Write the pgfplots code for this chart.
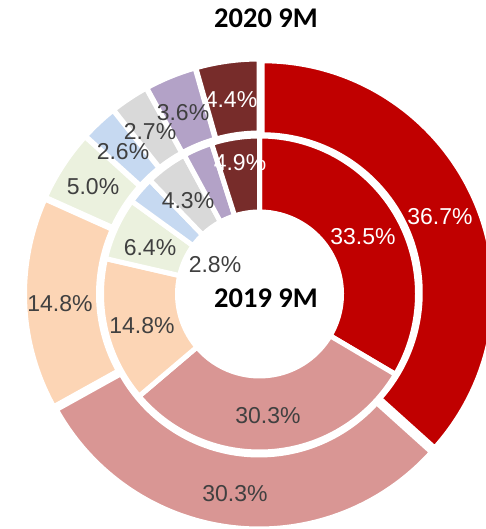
\documentclass[border=0pt]{standalone}
\usepackage{fontspec}
\setmainfont{Liberation Sans}
\newfontfamily\carlito{Carlito}
\usepackage{pgfplots}
\usepackage{pgfplotstable}
\pgfplotsset{compat=1.18}
\usetikzlibrary{calc}

\definecolor{s0}{HTML}{C00000}
\definecolor{s1}{HTML}{D99694}
\definecolor{s2}{HTML}{FCD5B5}
\definecolor{s3}{HTML}{EBF1DE}
\definecolor{s4}{HTML}{C6D9F1}
\definecolor{s5}{HTML}{D9D9D9}
\definecolor{s6}{HTML}{B3A2C7}
\definecolor{s7}{HTML}{772C2A}
\definecolor{labgray}{HTML}{404040}

% 2020 9M (outer ring)
\pgfplotstableread{
share
36.7
30.3
14.8
5.0
2.6
2.7
3.6
4.4
}\outerdata

% 2019 9M (inner ring)
\pgfplotstableread{
share
33.5
30.3
14.8
6.4
2.8
4.3
3.0
4.9
}\innerdata

% start / end / mid angles of every slice, clockwise from 12 o'clock
\newcommand\ringsetup[2]{%
  \pgfplotstablegetrowsof{#1}%
  \pgfmathtruncatemacro\nlast{\pgfplotsretval-1}%
  \def\tot{0}%
  \pgfplotsforeachungrouped \i in {0,...,\nlast}{%
    \pgfplotstablegetelem{\i}{share}\of{#1}%
    \pgfmathsetmacro\tot{\tot+\pgfplotsretval}%
  }%
  \def\cum{0}%
  \pgfplotsforeachungrouped \i in {0,...,\nlast}{%
    \pgfplotstablegetelem{\i}{share}\of{#1}%
    \pgfmathsetmacro\aS{90-360*(\cum/\tot)}%
    \pgfmathsetmacro\cum{\cum+\pgfplotsretval}%
    \pgfmathsetmacro\aE{90-360*(\cum/\tot)}%
    \pgfmathsetmacro\aM{(\aS+\aE)/2}%
    \expandafter\xdef\csname #2S\i\endcsname{\aS}%
    \expandafter\xdef\csname #2E\i\endcsname{\aE}%
    \expandafter\xdef\csname #2M\i\endcsname{\aM}%
  }%
}
\ringsetup{\outerdata}{out}%
\ringsetup{\innerdata}{inn}%

% ring prefix, slice, inner radius, outer radius, explode
\newcommand\ringwedge[5]{%
  \edef\tmp{\noexpand\fill[s#2, draw=white, line width=5pt, line join=round,
      shift={(\csname #1M#2\endcsname:#5pt)}]
    ($(axis cs:259.5,235)+(\csname #1S#2\endcsname:#4pt)$)
    arc[start angle=\csname #1S#2\endcsname, end angle=\csname #1E#2\endcsname, radius=#4pt]
    -- ($(axis cs:259.5,235)+(\csname #1E#2\endcsname:#3pt)$)
    arc[start angle=\csname #1E#2\endcsname, end angle=\csname #1S#2\endcsname, radius=#3pt]
    -- cycle;}%
  \tmp}

\newcommand\lab{\fontsize{23}{27}\selectfont}

\begin{document}
\begin{tikzpicture}
\begin{axis}[
    x=1pt, y=1pt,
    xmin=0, xmax=486, ymin=0, ymax=529,
    hide axis,
]
  \coordinate (bl) at (axis cs:0,0);
  \coordinate (tr) at (axis cs:486,529);

  \pgfplotsinvokeforeach{0,...,7}{\ringwedge{inn}{#1}{82}{158}{0}}
  \pgfplotsinvokeforeach{0,...,7}{\ringwedge{out}{#1}{158}{232}{3}}

  % outer labels
  \node[font=\lab, text=white]   at (axis cs:440,312) {36.7\%};
  \node[font=\lab, text=labgray] at (axis cs:235,35)  {30.3\%};
  \node[font=\lab, text=labgray] at (axis cs:60,225)  {14.8\%};
  \node[font=\lab, text=labgray] at (axis cs:93,342)  {5.0\%};
  \node[font=\lab, text=labgray] at (axis cs:123,377) {2.6\%};
  \node[font=\lab, text=labgray] at (axis cs:150,397) {2.7\%};
  \node[font=\lab, text=labgray] at (axis cs:183,416) {3.6\%};
  \node[font=\lab, text=white]   at (axis cs:231,429) {4.4\%};
  % inner labels
  \node[font=\lab, text=white]   at (axis cs:363,292) {33.5\%};
  \node[font=\lab, text=labgray] at (axis cs:268,113) {30.3\%};
  \node[font=\lab, text=labgray] at (axis cs:142,203) {14.8\%};
  \node[font=\lab, text=labgray] at (axis cs:150,281) {6.4\%};
  \node[font=\lab, text=labgray] at (axis cs:215,264) {2.8\%};
  \node[font=\lab, text=labgray] at (axis cs:188,328) {4.3\%};
  \node[font=\lab, text=white]   at (axis cs:240,366) {4.9\%};

  \node[font=\carlito\bfseries\fontsize{28.5}{32}\selectfont] at (axis cs:266,511) {2020 9M};
  \node[font=\carlito\bfseries\fontsize{28.5}{32}\selectfont] at (axis cs:266,231) {2019 9M};
\end{axis}
\pgfresetboundingbox
\useasboundingbox (bl) rectangle (tr);
\end{tikzpicture}
\end{document}
